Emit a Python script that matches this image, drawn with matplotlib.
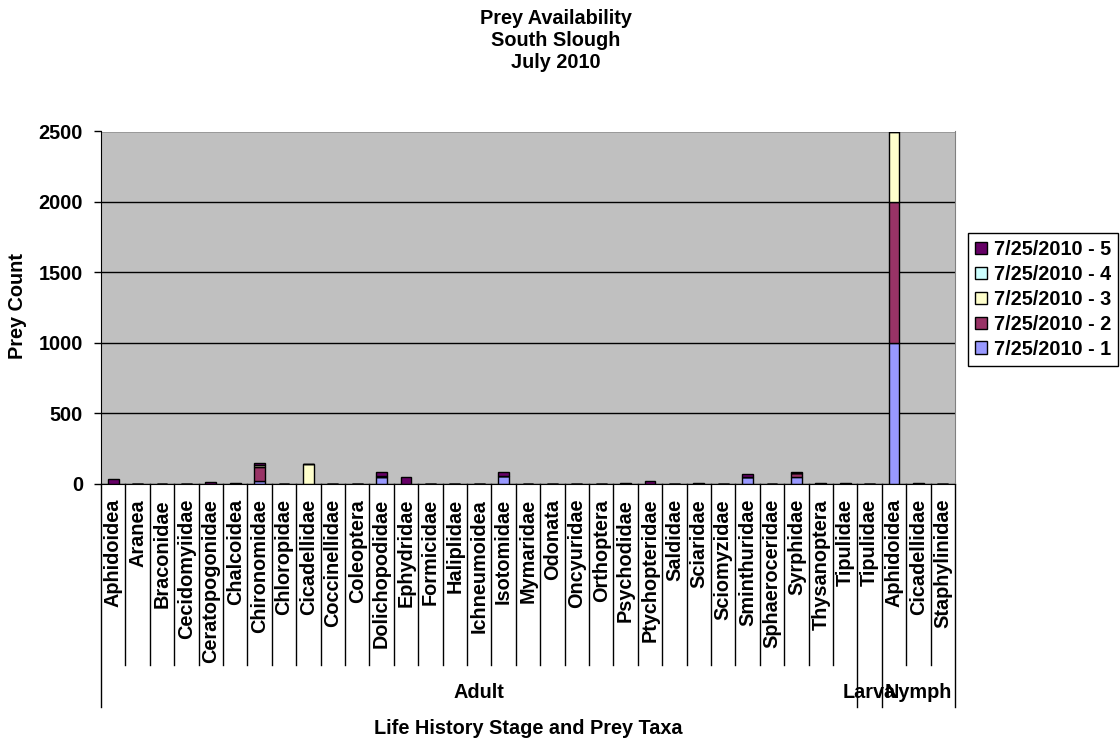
import numpy as np
import matplotlib
matplotlib.use("Agg")
import matplotlib.pyplot as plt
from matplotlib.transforms import blended_transform_factory
from matplotlib.lines import Line2D
from matplotlib.patches import Patch

plt.rcParams['font.family'] = ['Liberation Sans', 'DejaVu Sans']
plt.rcParams['font.weight'] = 'bold'

taxa = ["Aphidoidea", "Aranea", "Braconidae", "Cecidomyiidae", "Ceratopogonidae",
        "Chalcoidea", "Chironomidae", "Chloropidae", "Cicadellidae", "Coccinellidae",
        "Coleoptera", "Dolichopodidae", "Ephydridae", "Formicidae", "Haliplidae",
        "Ichneumoidea", "Isotomidae", "Mymaridae", "Odonata", "Oncyuridae",
        "Orthoptera", "Psychodidae", "Ptychopteridae", "Saldidae", "Sciaridae",
        "Sciomyzidae", "Sminthuridae", "Sphaeroceridae", "Syrphidae", "Thysanoptera",
        "Tipulidae",
        "Tipulidae",
        "Aphidoidea", "Cicadellidae", "Staphylinidae"]
stages = ["Adult", "Larva", "Nymph"]
stage_counts = [31, 1, 3]

series_names = ["7/25/2010 - 1", "7/25/2010 - 2", "7/25/2010 - 3", "7/25/2010 - 4", "7/25/2010 - 5"]
s1 = [0, 0, 0, 0, 0, 0, 15, 0, 0, 0, 0, 45, 0, 0, 0, 0, 55, 0, 0, 0, 0, 0, 0, 0, 0, 0, 45, 0, 45, 0, 0, 0, 1000, 0, 0]
s2 = [0, 0, 0, 0, 0, 0, 105, 0, 0, 0, 0, 0, 0, 0, 0, 0, 0, 0, 0, 0, 0, 0, 0, 0, 0, 0, 0, 0, 30, 0, 0, 0, 1000, 0, 0]
s3 = [0, 0, 0, 0, 0, 0, 8, 0, 135, 0, 0, 5, 0, 0, 0, 0, 0, 0, 0, 0, 0, 0, 0, 0, 0, 0, 0, 0, 0, 0, 0, 0, 500, 0, 0]
s4 = [0] * 35
s5 = [30, 0, 0, 0, 10, 5, 20, 0, 0, 0, 0, 35, 45, 0, 0, 0, 30, 0, 0, 0, 0, 5, 15, 0, 3, 0, 20, 0, 7, 4, 3, 0, 0, 5, 0]
series = [s1, s2, s3, s4, s5]
colors = ['#9999FF', '#993366', '#FFFFCC', '#CCFFFF', '#660066']

W, H = 1120, 740
fig = plt.figure(figsize=(W / 100, H / 100), dpi=100)
fig.patch.set_facecolor('white')
L, R, T, B = 101, 955, 131.5, 483.5
ax = fig.add_axes([L / W, 1 - B / H, (R - L) / W, (B - T) / H])
ax.set_facecolor('#C0C0C0')
FS = 14.3

x = np.arange(len(taxa))
bottom = np.zeros(len(taxa))
handles = []
for vals, c, name in zip(series, colors, series_names):
    v = np.array(vals, dtype=float)
    ax.bar(x, v, width=0.45, bottom=bottom, color=c, edgecolor='black', linewidth=1.0, zorder=3)
    bottom += v
    handles.append(Patch(facecolor=c, edgecolor='black', linewidth=1.0, label=name))

ax.set_xlim(-0.5, len(taxa) - 0.5)
ax.set_ylim(0, 2500)
ax.set_yticks([0, 500, 1000, 1500, 2000, 2500])
ax.yaxis.grid(True, color='black', linewidth=1.0, zorder=1)
ax.set_axisbelow(True)
ax.tick_params(axis='y', length=5, width=1, pad=8, labelsize=FS, direction='out')
for lab in ax.get_yticklabels():
    lab.set_fontweight('bold')
ax.set_xticks([])
ax.spines['top'].set_visible(False)
ax.spines['right'].set_color('#808080')
ax.spines['left'].set_color('black')
ax.spines['bottom'].set_color('black')
ax.spines['bottom'].set_zorder(4)

# category labels and dividers
tr = blended_transform_factory(ax.transData, fig.transFigure)
for i, t in enumerate(taxa):
    ax.text(i, 1 - 499 / H, t, rotation=90, ha='center', va='top', fontsize=FS,
            fontweight='bold', transform=tr, clip_on=False)

group_edges = np.cumsum([0] + stage_counts)
for k in range(len(taxa) + 1):
    xb = k - 0.5
    y_end = 707 if k in group_edges else 665
    ax.add_line(Line2D([xb, xb], [1 - B / H, 1 - y_end / H], color='black', linewidth=1.0,
                       transform=tr, clip_on=False))

for s, c0, n in zip(stages, group_edges[:-1], stage_counts):
    xc = c0 + (n - 1) / 2
    ax.text(xc, 1 - 693 / H, s, ha='center', va='center', fontsize=FS, fontweight='bold',
            transform=tr, clip_on=False)

fig.text(528 / W, 1 - 728 / H, "Life History Stage and Prey Taxa", ha='center', va='center',
         fontsize=FS, fontweight='bold')
fig.text(18 / W, 1 - 306 / H, "Prey Count", ha='center', va='center', rotation=90,
         fontsize=FS, fontweight='bold')
for line, yy in zip(["Prey Availability", "South Slough", "July 2010"], [18, 41, 63]):
    fig.text(556 / W, 1 - yy / H, line, ha='center', va='center', fontsize=FS, fontweight='bold')

leg = fig.legend(handles=handles[::-1], loc='upper left', bbox_to_anchor=(968 / W, 1 - 233 / H),
                 bbox_transform=fig.transFigure, fontsize=FS, frameon=True, fancybox=False,
                 edgecolor='black', framealpha=1, borderpad=0.35, handlelength=0.6,
                 handleheight=0.6, handletextpad=0.35, labelspacing=0.3, borderaxespad=0)
leg.get_frame().set_linewidth(1.0)
for t in leg.get_texts():
    t.set_fontweight('bold')

fig.savefig("out.png", dpi=100)
